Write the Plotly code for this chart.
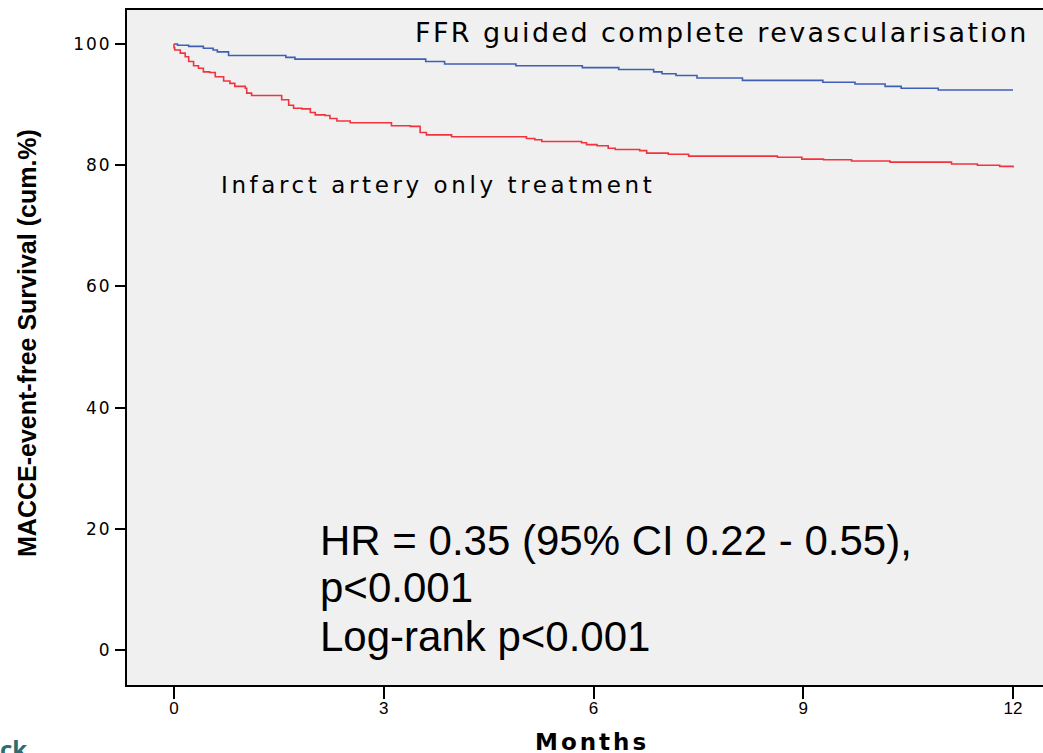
import plotly.graph_objects as go

# Kaplan-Meier step data (months, cumulative % event-free)
ffr_months = [0, 0.05, 0.21, 0.42, 0.56, 0.62, 0.78, 1.60, 1.73, 3.60, 3.87, 4.89, 5.84,
              6.36, 6.86, 6.98, 7.18, 7.48, 8.13, 9.28, 9.74, 10.17, 10.40, 10.93, 12.0]
ffr_surv = [100, 99.8, 99.6, 99.3, 99.0, 98.7, 98.1, 97.8, 97.5, 97.1, 96.7, 96.4, 96.1,
            95.8, 95.4, 95.1, 94.8, 94.4, 94.0, 93.7, 93.4, 93.0, 92.7, 92.4, 92.4]

ira_months = [0, 0.0, 0.01, 0.09, 0.16, 0.21, 0.28, 0.35, 0.42, 0.51, 0.59, 0.71, 0.80,
              0.87, 1.02, 1.04, 1.11, 1.54, 1.64, 1.71, 1.83, 1.95, 2.02, 2.16, 2.23,
              2.33, 2.52, 3.11, 3.38, 3.52, 3.61, 3.97, 5.04, 5.16, 5.26, 5.83, 5.90,
              6.05, 6.21, 6.31, 6.66, 6.76, 7.07, 7.36, 8.63, 8.98, 9.29, 9.69, 10.24,
              11.12, 11.49, 11.81, 12.0]
ira_surv = [100, 99.4, 99.0, 98.5, 97.9, 97.1, 96.4, 96.0, 95.4, 95.3, 94.6, 93.9, 93.5,
            93.0, 92.7, 91.9, 91.5, 90.8, 89.9, 89.4, 89.3, 88.7, 88.3, 88.2, 87.7,
            87.3, 87.0, 86.5, 86.4, 85.4, 85.0, 84.7, 84.4, 84.2, 83.9, 83.7, 83.4,
            83.2, 82.8, 82.6, 82.4, 82.0, 81.8, 81.5, 81.3, 81.0, 80.9, 80.7, 80.5,
            80.2, 80.0, 79.8, 79.6]

x_ticks = [0, 3, 6, 9, 12]
y_ticks = [0, 20, 40, 60, 80, 100]

W, H = 1043, 753
L, R, T, B = 127, 1043, 10, 685

def px(x):
    return (x - L) / (R - L)

def py(y):
    return (B - y) / (B - T)

fig = go.Figure()
fig.add_trace(go.Scatter(x=ffr_months, y=ffr_surv, mode="lines", line_shape="hv",
                         line=dict(color="#3f5fb5", width=1.6), showlegend=False))
fig.add_trace(go.Scatter(x=ira_months, y=ira_surv, mode="lines", line_shape="hv",
                         line=dict(color="#f2333e", width=1.6), showlegend=False))

arial = "Liberation Sans, Arial, sans-serif"
wide = "DejaVu Sans, Verdana, sans-serif"

fig.update_layout(
    width=W, height=H,
    margin=dict(l=L, r=W - R, t=T, b=H - B),
    paper_bgcolor="white", plot_bgcolor="#f0f0f0",
    xaxis=dict(range=[(L - 174) / 69.92, (R - 174) / 69.92], tickvals=x_ticks,
               ticks="outside", ticklen=12, tickwidth=2, tickcolor="black",
               showline=True, linecolor="black", linewidth=2, mirror=True,
               showgrid=False, zeroline=False, ticklabelstandoff=-5,
               tickfont=dict(family=arial, size=17, color="black")),
    yaxis=dict(range=[(650 - B) / 6.06, (650 - T) / 6.06], tickvals=y_ticks,
               ticks="outside", ticklen=10, tickwidth=2, tickcolor="black",
               showline=True, linecolor="black", linewidth=2, mirror=False,
               showgrid=False, zeroline=False,
               tickfont=dict(family=wide, size=17, color="black")),
)

def note(text, x, y, size, family, xanchor="left", textangle=0, color="black"):
    fig.add_annotation(xref="paper", yref="paper", x=px(x), y=py(y), xanchor=xanchor,
                       yanchor="middle", showarrow=False, text=text, textangle=textangle,
                       align="left" if xanchor == "left" else "center",
                       font=dict(family=family, size=size, color=color))

note("FFR guided complete revascularisation", 413, 32, 27, wide)
note("Infarct artery only treatment", 219, 185, 23, wide)
note("HR = 0.35 (95% CI 0.22 - 0.55),", 318, 540, 42, arial)
note("p<0.001", 318, 587, 42, arial)
note("Log-rank p<0.001", 318, 636, 42, arial)
note("<b>Months</b>", 533, 742, 23, wide)
note("<b>MACCE-event-free Survival (cum.%)</b>", 27, 343, 25, arial,
     xanchor="center", textangle=-90)
fig.add_annotation(xref="paper", yref="paper", x=px(-2), y=py(730), xanchor="left",
                   yanchor="top", showarrow=False, text="<b>ck</b>",
                   font=dict(family="Open Sans, sans-serif", size=24, color="#2b6d70"))

post = """
document.body.style.margin='0';
var gd=document.getElementById('{plot_id}');
gd.querySelectorAll('.annotation-text').forEach(function(t){
  var s=t.textContent;
  if(s.indexOf('FFR')===0) t.style.letterSpacing='2.4px';
  else if(s.indexOf('Infarct')===0) t.style.letterSpacing='3.6px';
  else if(s==='Months') t.style.letterSpacing='3px';
});
gd.querySelectorAll('.ytick text').forEach(function(t){t.style.letterSpacing='2px';});
"""

fig.write_html("out.html", post_script=post, config={"displayModeBar": False})
